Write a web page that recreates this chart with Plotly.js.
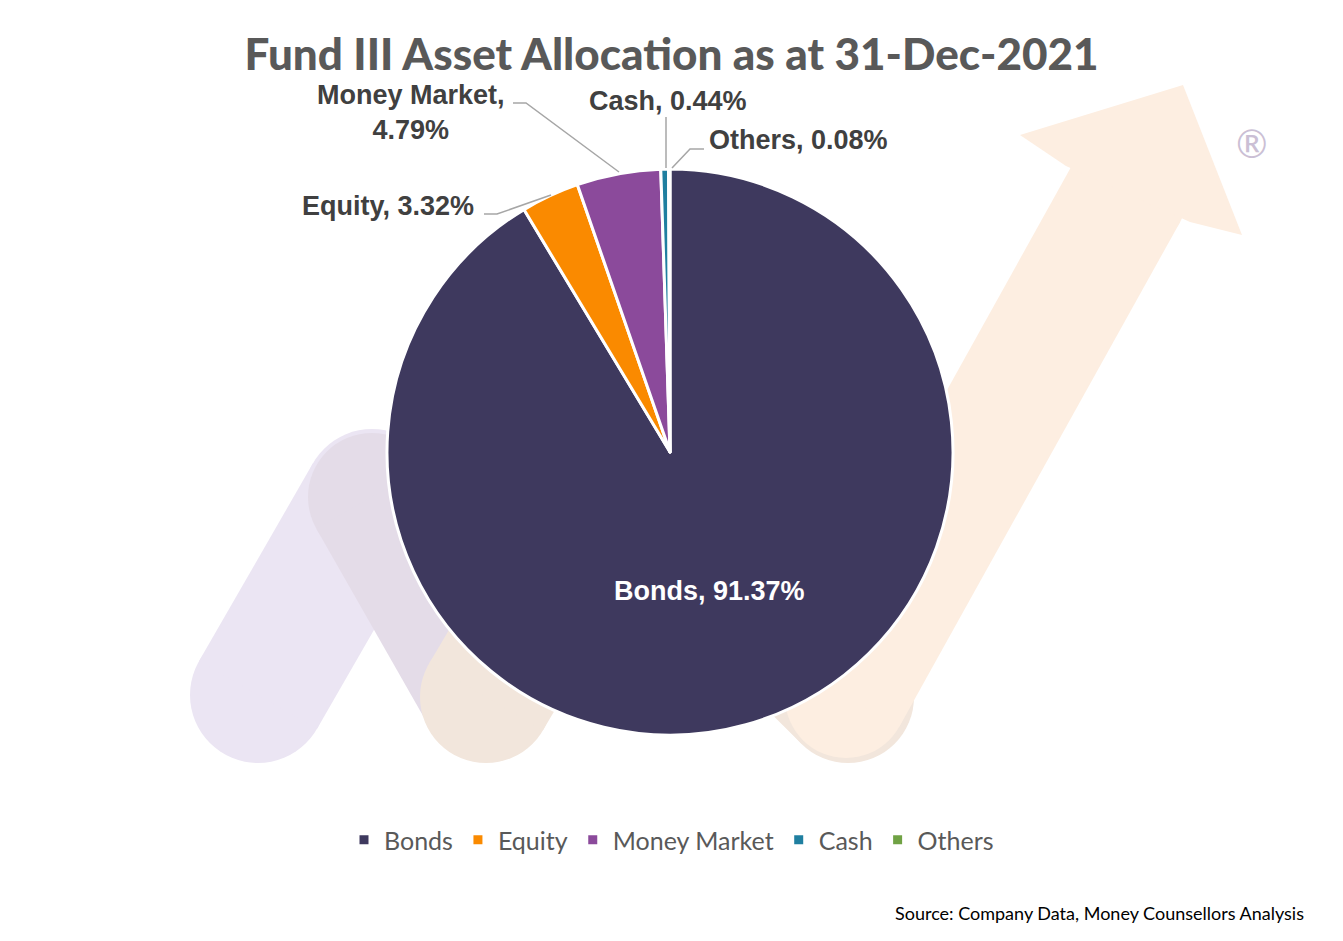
<!DOCTYPE html>
<html>
<head>
<meta charset="utf-8">
<script src="https://cdn.plot.ly/plotly-3.0.1.min.js"></script>
<style>
  html, body { margin: 0; padding: 0; background: #ffffff; }
  #chart { width: 1343px; height: 941px; }
</style>
</head>
<body>
<div id="chart"></div>
<script>
// data
var assetLabels = ["Bonds", "Equity", "Money Market", "Cash", "Others"];
var assetShares = [91.37, 3.32, 4.79, 0.44, 0.08];
var assetColors = ["#3e395e", "#fa8a00", "#8b4a9b", "#1f7fa0", "#70a244"];

var W = 1343, H = 941;
// pixel -> paper
function px(x) { return x / W; }
function py(y) { return 1 - y / H; }

function circle(cx, cy, r, color) {
  return { type: "circle", xref: "paper", yref: "paper", layer: "below",
    x0: px(cx - r), x1: px(cx + r), y0: py(cy + r), y1: py(cy - r),
    fillcolor: color, line: { width: 0 } };
}
function poly(pts, color) {
  var d = pts.map(function (p, i) { return (i ? "L" : "M") + px(p[0]) + "," + py(p[1]); }).join(" ") + " Z";
  return { type: "path", xref: "paper", yref: "paper", layer: "below",
    path: d, fillcolor: color, line: { width: 0 } };
}
// a thick stroke with round ends
function capsule(x1, y1, x2, y2, r, color) {
  var dx = x2 - x1, dy = y2 - y1, len = Math.sqrt(dx * dx + dy * dy);
  var nx = -dy / len * r, ny = dx / len * r;
  return [
    circle(x1, y1, r, color),
    circle(x2, y2, r, color),
    poly([[x1 + nx, y1 + ny], [x2 + nx, y2 + ny], [x2 - nx, y2 - ny], [x1 - nx, y1 - ny]], color)
  ];
}
function leader(pts) {
  var d = pts.map(function (p, i) { return (i ? "L" : "M") + px(p[0]) + "," + py(p[1]); }).join(" ");
  return { type: "path", xref: "paper", yref: "paper", path: d,
    line: { color: "#a6a6a6", width: 1.5 } };
}

// faded logo watermark behind the pie
var shapes = [];
shapes = shapes.concat(capsule(258, 695, 372, 497, 68, "#ebe5f3"));
shapes = shapes.concat(capsule(372, 497, 486, 697, 64, "#e4dce8"));
shapes = shapes.concat(capsule(486, 697, 620, 470, 66, "#f2e6dc"));
shapes = shapes.concat(capsule(620, 470, 848, 697, 66, "#f2e6dc"));
shapes = shapes.concat(capsule(846, 697, 1127, 192, 61, "#fdeee1"));
shapes.push(poly([[1066, 166], [1020, 135], [1183, 85], [1242, 235], [1190, 222]], "#fdeee1"));

// leader lines for the small slices
shapes.push(leader([[484, 214], [497, 214], [551, 195]]));
shapes.push(leader([[513, 103], [526, 103], [619, 172]]));
shapes.push(leader([[666, 117], [666, 168]]));
shapes.push(leader([[704, 149], [690, 149], [672, 168]]));

// label positions (px) for each slice
var labelPos = [[709, 591], [388, 206], [411, 113], [668, 101], [798, 140]];
var annotations = assetLabels.map(function (lab, i) {
  var sep = lab === "Money Market" ? ",<br>" : ", ";
  return {
    xref: "paper", yref: "paper", showarrow: false,
    x: px(labelPos[i][0]), y: py(labelPos[i][1]),
    xanchor: "center", yanchor: "middle",
    text: lab + sep + assetShares[i].toFixed(2) + "%",
    font: { family: "Liberation Sans, Arial, sans-serif", size: 27,
      color: i === 0 ? "#ffffff" : "#404040", weight: "bold" }
  };
});
annotations.push({
  xref: "paper", yref: "paper", showarrow: false,
  x: px(1252), y: py(143), xanchor: "center", yanchor: "middle", text: "®",
  font: { family: "Lato, sans-serif", size: 38, color: "#cbbfd5" }
});
annotations.push({
  xref: "paper", yref: "paper", showarrow: false,
  x: px(1306), y: py(913), xanchor: "right", yanchor: "middle",
  text: "Source: Company Data, Money Counsellors Analysis",
  font: { family: "Lato, sans-serif", size: 18, color: "#000000" }
});

var cx = 670, cy = 452, rad = 283;
var trace = {
  type: "pie",
  labels: assetLabels,
  values: assetShares,
  sort: false,
  direction: "clockwise",
  rotation: 0,
  textinfo: "none",
  hoverinfo: "label+percent",
  marker: { colors: assetColors, line: { color: "#ffffff", width: 3 } },
  domain: { x: [px(cx - rad), px(cx + rad)], y: [py(cy + rad), py(cy - rad)] }
};

var layout = {
  width: W, height: H,
  margin: { l: 0, r: 0, t: 0, b: 0 },
  paper_bgcolor: "#ffffff",
  title: {
    text: "Fund III Asset Allocation as at 31-Dec-2021",
    x: 0.5, xanchor: "center", y: py(55), yanchor: "middle", yref: "paper",
    font: { family: "Lato, sans-serif", size: 44, color: "#595959", weight: 900 }
  },
  showlegend: true,
  legend: {
    orientation: "h", x: 0.5, xanchor: "center", y: py(840), yanchor: "middle",
    font: { family: "Lato, sans-serif", size: 25, color: "#595959" },
    traceorder: "normal", itemclick: false
  },
  shapes: shapes,
  annotations: annotations
};

Plotly.newPlot("chart", [trace], layout, { displayModeBar: false, staticPlot: true });
</script>
</body>
</html>
